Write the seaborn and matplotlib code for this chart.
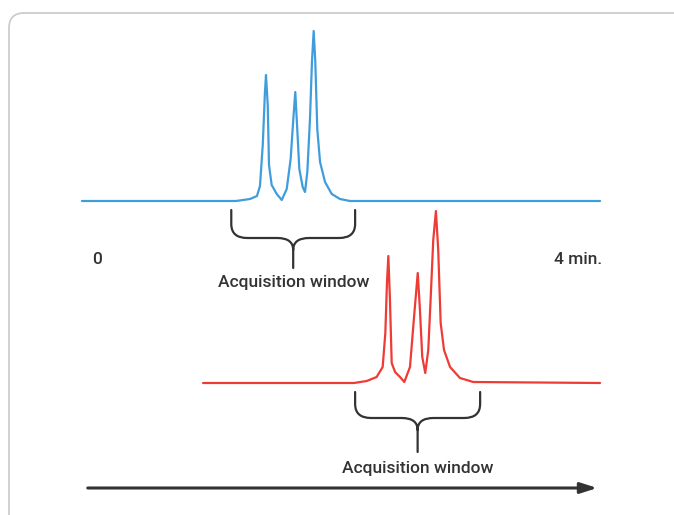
import numpy as np
import pandas as pd
import matplotlib.pyplot as plt
import seaborn as sns
from matplotlib.path import Path
from matplotlib.patches import PathPatch, FancyBboxPatch

sns.set_style("white")
plt.rcParams['font.family'] = ['Roboto', 'DejaVu Sans']

# ------------------------------------------------------------
# data: two chromatogram traces (time in min, signal in a.u.)
# ------------------------------------------------------------
blue_time = [-0.13, 1.20, 1.322, 1.382, 1.408, 1.432, 1.451, 1.460, 1.475, 1.486, 1.509,
             1.553, 1.596, 1.639, 1.673, 1.696, 1.713, 1.730, 1.748, 1.777, 1.797,
             1.817, 1.840, 1.857, 1.872, 1.886, 1.903, 1.927, 1.970, 2.028, 2.099,
             2.186, 4.346]
blue_signal = [0, 0, 2, 5, 15, 56, 109, 126, 96, 36, 16,
               7, 1, 12, 42, 82, 109, 72, 32, 14, 9,
               29, 82, 139, 170, 139, 72, 39, 19, 7, 2,
               0, 0]

red_time = [0.916, 2.22, 2.330, 2.416, 2.468, 2.491, 2.505, 2.517, 2.531, 2.546, 2.575,
            2.618, 2.655, 2.704, 2.739, 2.771, 2.790, 2.810, 2.836, 2.862, 2.882,
            2.905, 2.928, 2.948, 2.969, 2.998, 3.050, 3.136, 3.251, 4.346]
red_signal = [0, 0, 2, 6, 16, 50, 100, 127, 83, 20, 11,
              6, 1, 16, 66, 110, 73, 26, 10, 33, 83,
              143, 172, 133, 60, 33, 16, 5, 1, 0]

# acquisition windows (min)
blue_window = [1.16, 2.23]
red_window = [2.23, 3.31]

time_labels = ['0', '4 min.']
time_label_pos = [0.0, 4.16]

# layout (vertical offsets of the two traces)
blue_offset = 314
red_offset = 132

blue_color = '#3f9ddd'
red_color = '#ee3b35'
ink = '#333333'

df_blue = pd.DataFrame({'time': blue_time, 'y': np.array(blue_signal) + blue_offset})
df_red = pd.DataFrame({'time': red_time, 'y': np.array(red_signal) + red_offset})

fig = plt.figure(figsize=(6.74, 5.15), dpi=100)
ax = fig.add_axes([0, 0, 1, 1])
px = 115.75  # pixels per minute
ax.set_xlim(-97 / px, (674 - 97) / px)
ax.set_ylim(0, 515)
ax.axis('off')

# rounded frame
sx = 1 / px
frame = FancyBboxPatch((-88 * sx, -20), 690 * sx, 522, boxstyle='round,pad=0,rounding_size=0.13',
                       mutation_aspect=px, fc='none', ec='#c9c9c9', lw=1.2, zorder=0)
ax.add_patch(frame)

sns.lineplot(data=df_blue, x='time', y='y', color=blue_color, lw=1.6, ax=ax, sort=False)
sns.lineplot(data=df_red, x='time', y='y', color=red_color, lw=1.6, ax=ax, sort=False)


def brace(x0, x1, ytop, drop, tip):
    xm = (x0 + x1) / 2
    r = 16 * sx
    ymid = ytop - drop
    verts = [(x0, ytop), (x0, ymid + 14), (x0, ymid), (x0 + r, ymid),
             (xm - r, ymid), (xm, ymid), (xm, ymid - 12), (xm, ymid - tip),
             (xm, ymid - 12), (xm, ymid), (xm + r, ymid),
             (x1 - r, ymid), (x1, ymid), (x1, ymid + 14), (x1, ytop)]
    codes = [Path.MOVETO, Path.LINETO, Path.CURVE3, Path.CURVE3,
             Path.LINETO, Path.CURVE3, Path.CURVE3, Path.LINETO,
             Path.MOVETO, Path.CURVE3, Path.CURVE3,
             Path.LINETO, Path.CURVE3, Path.CURVE3, Path.LINETO]
    ax.add_patch(PathPatch(Path(verts, codes), fc='none', ec=ink, lw=1.6, capstyle='round'))
    return xm, ymid - tip


xm, yb = brace(blue_window[0], blue_window[1], 305, 28, 30)
ax.text(xm, yb - 14, 'Acquisition window', ha='center', va='center', fontsize=12.5,
        color=ink, fontweight='medium')
xm, yb = brace(red_window[0], red_window[1], 123, 26, 34)
ax.text(xm, yb - 16, 'Acquisition window', ha='center', va='center', fontsize=12.5,
        color=ink, fontweight='medium')

for lab, pos in zip(time_labels, time_label_pos):
    ax.text(pos, 255, lab, ha='center', va='center', fontsize=12.5, color=ink, fontweight='medium')

# time arrow
ax.annotate('', xy=(600 / px - 97 / px, 27), xytext=(85 / px - 97 / px, 27),
            arrowprops=dict(arrowstyle='-|>,head_length=1.0,head_width=0.32', color='#333333', lw=2.2))

plt.savefig('out.png', dpi=100)
plt.close()
